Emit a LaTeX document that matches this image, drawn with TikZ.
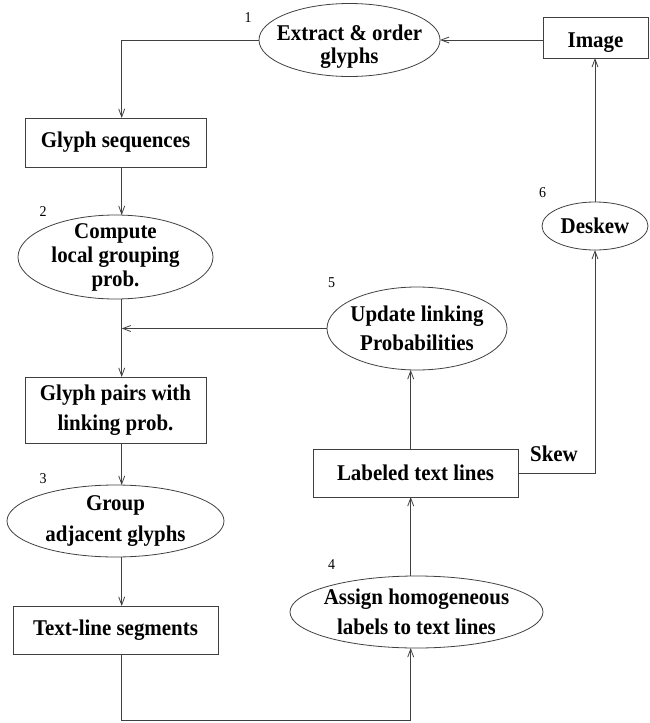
\documentclass[tikz,border=0pt]{standalone}
\usepackage{fontspec}
\setmainfont{Liberation Serif}[FakeStretch=0.93]
\usetikzlibrary{shapes.geometric,arrows.meta}

\begin{document}
\begin{tikzpicture}[x=1pt,y=-1pt,
    lskip/.style={font=\bfseries\fontsize{22.5}{#1}\selectfont},
    box/.style={draw=black!75, line width=0.8pt, rectangle, inner sep=0pt, outer sep=0pt, align=center, lskip=24},
    ellip/.style={draw=black!75, line width=0.8pt, ellipse, inner sep=-150pt, outer sep=0pt, align=center, lskip=24},
    num/.style={font=\fontsize{15}{17}\selectfont, inner sep=0pt},
    lbl/.style={font=\bfseries\fontsize{22.5}{24}\selectfont, inner sep=0pt},
    flow/.style={draw=black!75, line width=0.8pt, -{Straight Barb[length=8pt,width=6pt]}}]
			%%%%% START %%%%%
			\useasboundingbox (0,0) rectangle (649,723);
			
			\node[ellip, minimum width=181, minimum height=73, lskip=23] (extract) at (349.5,40) {\rule{0pt}{29pt}Extract \& order\\glyphs};
			\node[box, minimum width=105, minimum height=41] (image) at (595.5,37.5) {\rule{0pt}{24pt}Image};
			\node[box, minimum width=181, minimum height=49] (glyphseq) at (115.5,142.5) {Glyph sequences};
			\node[ellip, minimum width=195, minimum height=84] (compute) at (115.5,257) {Compute\\local grouping\\prob.};
			\node[box, minimum width=181, minimum height=66, lskip=30] (pairs) at (115.5,410) {Glyph pairs with\\linking prob.};
			\node[ellip, minimum width=217, minimum height=72, lskip=31] (group) at (115.5,521) {Group\\adjacent glyphs};
			\node[box, minimum width=205, minimum height=48] (segments) at (115.5,630) {Text-line segments};
			
			\node[ellip, minimum width=253, minimum height=72, lskip=30] (assign) at (416.5,612) {Assign homogeneous\\labels to text lines};
			\node[box, minimum width=205, minimum height=48] (labeled) at (415.5,473) {Labeled text lines};
			\node[ellip, minimum width=180, minimum height=83, lskip=29] (update) at (417,328.5) {Update linking\\Probabilities};
			\node[ellip, minimum width=106, minimum height=48] (deskew) at (595,226) {Deskew};
			\node[lbl] (skew) at (554,454) {Skew};
			
			\node[num] (n1) at (248,18) {1};
			\node[num] (n2) at (43,211.5) {2};
			\node[num] (n3) at (43,479) {3};
			\node[num] (n4) at (331.7,565) {4};
			\node[num] (n5) at (331.7,283) {5};
			\node[num] (n6) at (542.7,192.7) {6};
			
			\coordinate (trunk) at (121.7,0);
			\coordinate (spine) at (410.7,0);
			\coordinate (floor) at (0,720);
			
			\draw[flow] (image.west |- extract.east) -- (extract.east);
			\draw[flow] (extract.west) -| (trunk |- glyphseq.north);
			\draw[flow] (trunk |- glyphseq.south) -- (trunk |- compute.north);
			\draw[flow] (trunk |- compute.south) -- (trunk |- pairs.north);
			\draw[flow] (update.west) -- (trunk |- update.west);
			\draw[flow] (trunk |- pairs.south) -- (trunk |- group.north);
			\draw[flow] (trunk |- group.south) -- (trunk |- segments.north);
			\draw[flow] (trunk |- segments.south) -- (trunk |- floor) -- (spine |- floor) -- (spine |- assign.south);
			\draw[flow] (spine |- assign.north) -- (spine |- labeled.south);
			\draw[flow] (spine |- labeled.north) -- (spine |- update.south);
			\draw[flow] (labeled.east) -| (deskew.south);
			\draw[flow] (deskew.north) -- (deskew.north |- image.south);
			
			%%%%% END %%%%%
\end{tikzpicture}
\end{document}
